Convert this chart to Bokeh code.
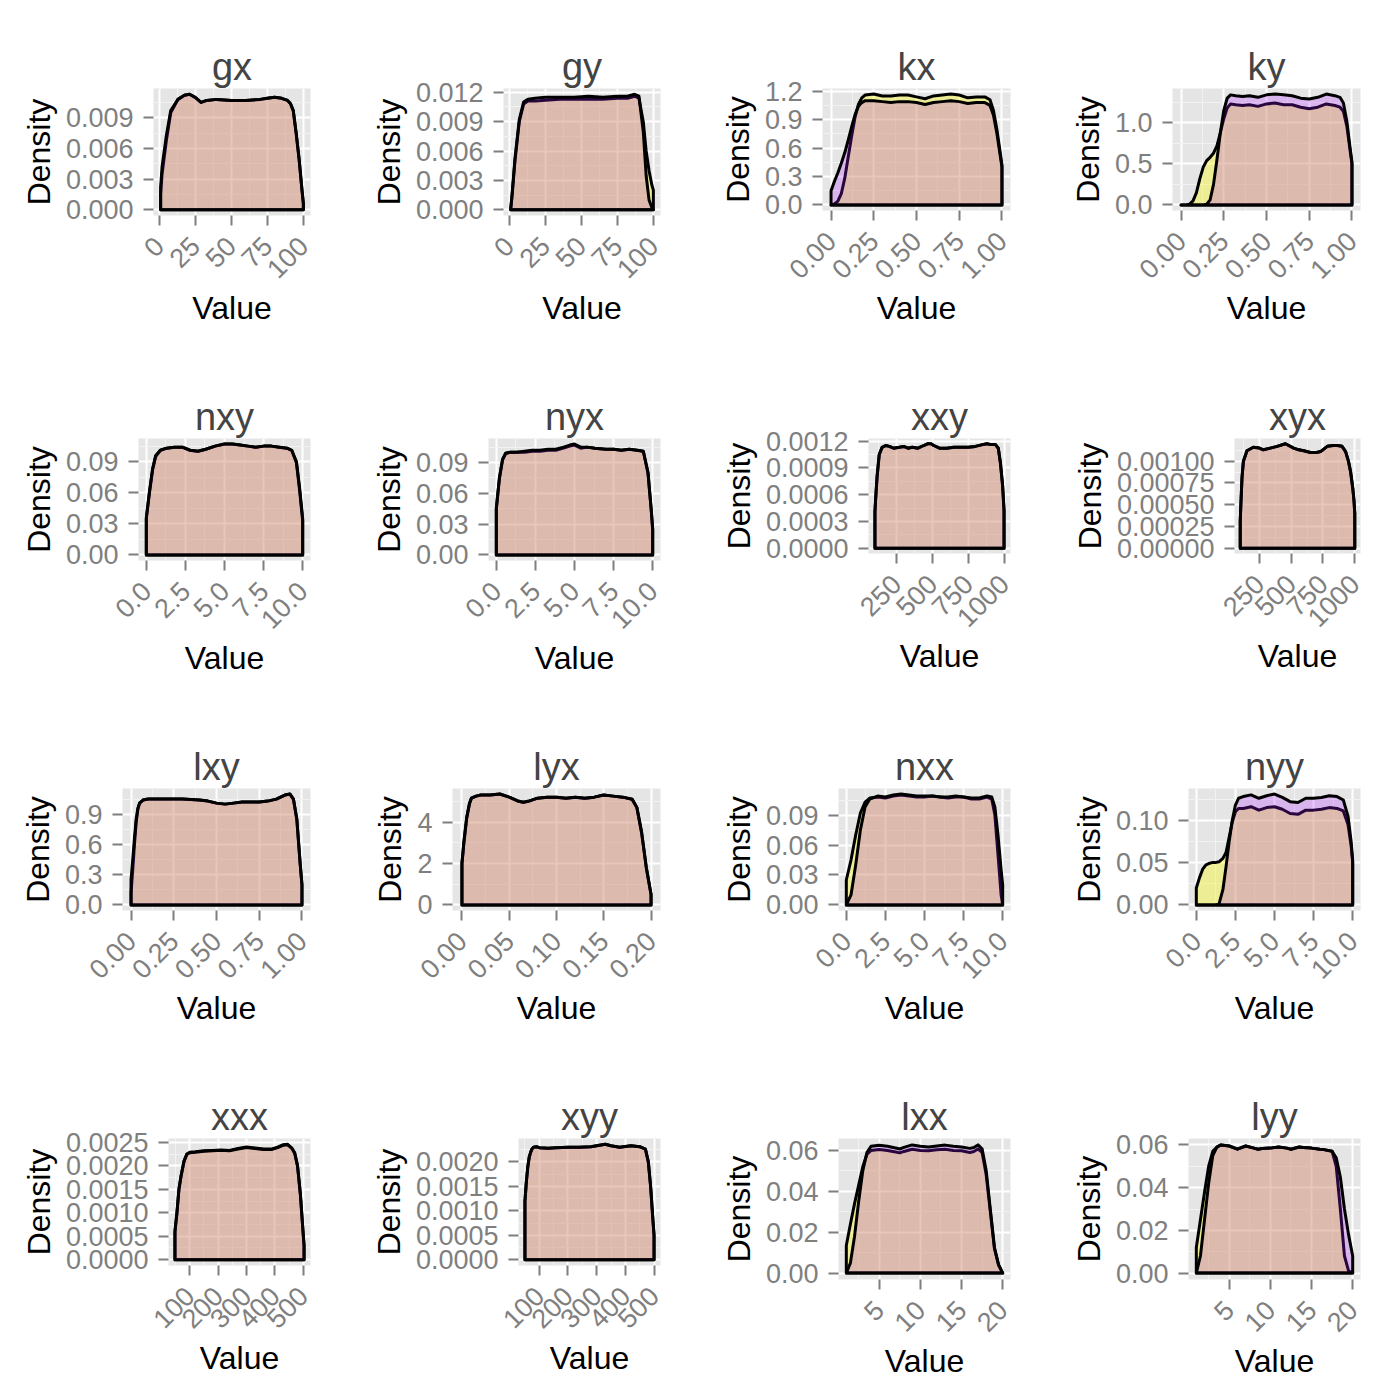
from bokeh.plotting import figure
from bokeh.layouts import row, column
from bokeh.models import Range1d, FixedTicker
from bokeh.embed import file_html
from bokeh.resources import INLINE

# ---------------- data ----------------
panel_names = ["gx", "gy", "kx", "ky", "nxy", "nyx", "xxy", "xyx",
               "lxy", "lyx", "nxx", "nyy", "xxx", "xyy", "lxx", "lyy"]

gx_x = [1, 2, 5, 8, 13, 17.5, 21, 25, 29, 33, 40, 50, 60, 70, 75, 80, 85, 89, 91, 93, 95, 97, 99, 100]
gx_yellow = [0.0015, 0.0035, 0.0068, 0.0095, 0.0108, 0.0112, 0.0113, 0.0110, 0.0105, 0.0107, 0.0108, 0.0107,
             0.0107, 0.0108, 0.0109, 0.0110, 0.0109, 0.0107, 0.0104, 0.0097, 0.0075, 0.0050, 0.0020, 0.0006]
gx_purple = [0.0022, 0.0042, 0.0073, 0.0097, 0.0108, 0.0112, 0.0113, 0.0110, 0.0105, 0.0107, 0.0108, 0.0107,
             0.0107, 0.0108, 0.0109, 0.0110, 0.0109, 0.0107, 0.0104, 0.0097, 0.0075, 0.0050, 0.0020, 0.0006]

gy_x = [1, 2, 4, 7, 10, 13, 18, 25, 35, 45, 55, 65, 75, 82, 87, 90, 93, 95, 97, 99, 100]
gy_yellow = [0.0000, 0.0015, 0.0050, 0.0090, 0.0108, 0.0111, 0.0111, 0.0112, 0.0113, 0.0113, 0.0113,
             0.0113, 0.0114, 0.0114, 0.0116, 0.0114, 0.0090, 0.0060, 0.0040, 0.0025, 0.0020]
gy_purple = [0.0000, 0.0015, 0.0052, 0.0092, 0.0110, 0.0113, 0.0114, 0.0115, 0.0115, 0.0115, 0.0116,
             0.0115, 0.0116, 0.0116, 0.0118, 0.0116, 0.0080, 0.0035, 0.0010, 0.0002, 0.0000]

kx_x = [0, 0.02, 0.04, 0.06, 0.08, 0.10, 0.12, 0.14, 0.16, 0.18, 0.2, 0.25, 0.3, 0.35, 0.4, 0.45, 0.5,
        0.55, 0.6, 0.65, 0.7, 0.75, 0.8, 0.85, 0.9, 0.93, 0.95, 0.97, 0.99, 1.0]
kx_yellow = [0.0, 0.01, 0.04, 0.12, 0.28, 0.50, 0.72, 0.92, 1.06, 1.13, 1.16, 1.17, 1.15, 1.15, 1.16, 1.16,
             1.14, 1.12, 1.15, 1.16, 1.17, 1.16, 1.13, 1.14, 1.14, 1.11, 1.00, 0.80, 0.55, 0.42]
kx_purple = [0.15, 0.25, 0.34, 0.44, 0.55, 0.68, 0.82, 0.95, 1.04, 1.08, 1.10, 1.10, 1.09, 1.08, 1.09, 1.09,
             1.08, 1.06, 1.08, 1.09, 1.10, 1.09, 1.07, 1.08, 1.08, 1.05, 0.95, 0.76, 0.52, 0.40]

ky_x = [0, 0.03, 0.05, 0.07, 0.09, 0.11, 0.13, 0.15, 0.17, 0.19, 0.21, 0.23, 0.25, 0.27, 0.29, 0.32, 0.36,
        0.4, 0.45, 0.5, 0.55, 0.6, 0.65, 0.7, 0.75, 0.8, 0.85, 0.9, 0.93, 0.95, 0.97, 0.99, 1.0]
ky_yellow = [0, 0, 0.01, 0.05, 0.15, 0.32, 0.46, 0.54, 0.58, 0.63, 0.72, 0.88, 1.05, 1.18, 1.23, 1.22, 1.21,
             1.22, 1.20, 1.23, 1.24, 1.22, 1.22, 1.19, 1.17, 1.19, 1.23, 1.21, 1.19, 1.14, 0.96, 0.65, 0.50]
ky_purple = [0, 0, 0, 0, 0, 0, 0, 0.01, 0.06, 0.25, 0.55, 0.88, 1.15, 1.30, 1.34, 1.33, 1.32,
             1.33, 1.31, 1.34, 1.35, 1.34, 1.33, 1.30, 1.29, 1.31, 1.35, 1.33, 1.31, 1.24, 1.02, 0.68, 0.52]

nxy_x = [0, 0.2, 0.4, 0.6, 0.9, 1.3, 1.8, 2.3, 2.8, 3.3, 3.8, 4.4, 5.0, 5.5, 6.0, 6.5, 7.0, 7.5, 8.0, 8.5,
         9.0, 9.3, 9.6, 9.8, 10.0]
nxy_yellow = [0.035, 0.060, 0.082, 0.095, 0.101, 0.103, 0.104, 0.104, 0.101, 0.100, 0.102, 0.105, 0.107,
              0.107, 0.106, 0.105, 0.104, 0.105, 0.105, 0.104, 0.103, 0.101, 0.090, 0.065, 0.035]
nxy_purple = [0.036, 0.061, 0.083, 0.096, 0.101, 0.103, 0.104, 0.104, 0.101, 0.100, 0.102, 0.105, 0.107,
              0.107, 0.106, 0.105, 0.104, 0.105, 0.105, 0.104, 0.103, 0.101, 0.089, 0.063, 0.033]

nyx_x = [0, 0.2, 0.4, 0.6, 0.9, 1.3, 1.8, 2.3, 2.8, 3.3, 3.8, 4.3, 4.7, 5.0, 5.4, 5.8, 6.3, 7.0, 7.5, 8.0,
         8.5, 9.0, 9.4, 9.7, 9.9, 10.0]
nyx_yellow = [0.045, 0.075, 0.093, 0.099, 0.100, 0.100, 0.100, 0.101, 0.101, 0.102, 0.102, 0.104, 0.106,
              0.107, 0.104, 0.105, 0.104, 0.103, 0.103, 0.102, 0.103, 0.102, 0.101, 0.080, 0.045, 0.025]
nyx_purple = [0.045, 0.075, 0.093, 0.099, 0.100, 0.100, 0.101, 0.102, 0.102, 0.103, 0.103, 0.105, 0.107,
              0.108, 0.105, 0.105, 0.104, 0.103, 0.103, 0.102, 0.103, 0.102, 0.101, 0.080, 0.045, 0.025]

xxy_x = [100, 105, 115, 130, 150, 175, 200, 230, 270, 300, 330, 360, 400, 440, 470, 490, 510, 550, 600, 650,
         700, 750, 800, 850, 880, 910, 940, 960, 975, 990, 1000]
xxy_yellow = [0.00041, 0.00055, 0.00080, 0.00105, 0.00113, 0.00115, 0.00114, 0.00112, 0.00113, 0.00114,
              0.00112, 0.00113, 0.00112, 0.00115, 0.00117, 0.00117, 0.00115, 0.00112, 0.00112, 0.00113,
              0.00113, 0.00113, 0.00114, 0.00116, 0.00117, 0.00116, 0.00116, 0.00112, 0.00095, 0.00070, 0.00042]
xxy_purple = [0.00041, 0.00056, 0.00081, 0.00105, 0.00113, 0.00115, 0.00114, 0.00112, 0.00113, 0.00114,
              0.00112, 0.00113, 0.00112, 0.00115, 0.00117, 0.00117, 0.00115, 0.00112, 0.00112, 0.00113,
              0.00113, 0.00113, 0.00114, 0.00116, 0.00117, 0.00116, 0.00116, 0.00112, 0.00095, 0.00070, 0.00042]

xyx_x = [100, 105, 114, 125, 153, 203, 250, 282, 337, 390, 455, 520, 560, 599, 652, 700, 731, 784, 830, 863,
         900, 928, 950, 967, 985, 994, 1000]
xyx_yellow = [0.00031, 0.00050, 0.00081, 0.00100, 0.00112, 0.00116, 0.00115, 0.00113, 0.00115, 0.00117,
              0.00120, 0.00115, 0.00113, 0.00112, 0.00110, 0.00110, 0.00111, 0.00117, 0.00118, 0.00118,
              0.00117, 0.00111, 0.00100, 0.00088, 0.00068, 0.00054, 0.00040]
xyx_purple = [0.00031, 0.00050, 0.00081, 0.00100, 0.00112, 0.00116, 0.00115, 0.00113, 0.00115, 0.00117,
              0.00120, 0.00115, 0.00113, 0.00112, 0.00110, 0.00110, 0.00111, 0.00117, 0.00118, 0.00118,
              0.00117, 0.00111, 0.00100, 0.00088, 0.00068, 0.00054, 0.00040]

lxy_x = [0, 0.01, 0.02, 0.03, 0.04, 0.05, 0.07, 0.1, 0.15, 0.2, 0.3, 0.4, 0.45, 0.5, 0.55, 0.6, 0.65, 0.7,
         0.75, 0.8, 0.85, 0.9, 0.93, 0.95, 0.97, 0.99, 1.0]
lxy_yellow = [0.12, 0.35, 0.60, 0.82, 0.95, 1.01, 1.04, 1.05, 1.05, 1.05, 1.05, 1.04, 1.03, 1.01, 1.00, 1.01,
              1.02, 1.02, 1.02, 1.03, 1.05, 1.09, 1.10, 1.05, 0.85, 0.40, 0.20]
lxy_purple = [0.25, 0.45, 0.66, 0.85, 0.96, 1.01, 1.04, 1.05, 1.05, 1.05, 1.05, 1.04, 1.03, 1.01, 1.00, 1.01,
              1.02, 1.02, 1.02, 1.03, 1.05, 1.09, 1.10, 1.05, 0.85, 0.40, 0.20]

lyx_x = [0, 0.002, 0.005, 0.008, 0.01, 0.015, 0.02, 0.03, 0.04, 0.05, 0.06, 0.065, 0.07, 0.08, 0.09, 0.1,
         0.11, 0.12, 0.13, 0.14, 0.15, 0.16, 0.17, 0.18, 0.185, 0.19, 0.195, 0.2]
lyx_yellow = [2.0, 3.0, 4.2, 4.9, 5.15, 5.25, 5.3, 5.3, 5.35, 5.2, 5.0, 4.95, 5.0, 5.15, 5.2, 5.2, 5.15, 5.2,
              5.15, 5.2, 5.3, 5.25, 5.2, 5.1, 4.7, 3.5, 1.8, 0.5]
lyx_purple = [2.0, 3.0, 4.2, 4.9, 5.15, 5.25, 5.3, 5.3, 5.35, 5.2, 5.0, 4.95, 5.0, 5.15, 5.2, 5.2, 5.15, 5.2,
              5.15, 5.2, 5.3, 5.25, 5.2, 5.1, 4.7, 3.5, 1.8, 0.5]

nxx_x = [0, 0.3, 0.6, 0.9, 1.2, 1.5, 2.0, 2.5, 3.0, 3.5, 4.0, 4.5, 5.0, 5.5, 6.0, 6.5, 7.0, 7.5, 8.0, 8.5,
         9.0, 9.3, 9.5, 9.7, 9.9, 10.0]
nxx_yellow = [0.025, 0.045, 0.070, 0.092, 0.103, 0.107, 0.108, 0.107, 0.109, 0.110, 0.109, 0.108, 0.108,
              0.109, 0.108, 0.107, 0.108, 0.108, 0.106, 0.106, 0.108, 0.106, 0.090, 0.050, 0.010, 0.000]
nxx_purple = [0.000, 0.010, 0.040, 0.075, 0.098, 0.106, 0.109, 0.108, 0.110, 0.111, 0.110, 0.109, 0.109,
              0.109, 0.108, 0.108, 0.109, 0.108, 0.107, 0.107, 0.109, 0.108, 0.098, 0.070, 0.035, 0.020]

nyy_x = [0, 0.2, 0.4, 0.6, 0.8, 1.0, 1.2, 1.45, 1.7, 1.9, 2.1, 2.3, 2.5, 2.7, 3.0, 3.5, 4.0, 4.5, 5.0, 5.5,
         6.0, 6.5, 7.0, 7.5, 8.0, 8.5, 9.0, 9.4, 9.7, 9.9, 10.0]
nyy_yellow = [0.020, 0.032, 0.042, 0.047, 0.049, 0.050, 0.050, 0.051, 0.055, 0.062, 0.080, 0.098, 0.110,
              0.114, 0.114, 0.116, 0.112, 0.115, 0.116, 0.113, 0.108, 0.107, 0.112, 0.112, 0.113, 0.115,
              0.114, 0.111, 0.095, 0.070, 0.050]
nyy_purple = [0, 0, 0, 0, 0, 0, 0, 0.001, 0.018, 0.045, 0.075, 0.100, 0.118, 0.126, 0.128, 0.130, 0.126,
              0.129, 0.131, 0.127, 0.122, 0.121, 0.126, 0.126, 0.127, 0.129, 0.128, 0.124, 0.105, 0.075, 0.052]

xxx_x = [48, 55, 62, 70, 80, 90, 100, 120, 150, 180, 210, 240, 270, 300, 330, 360, 390, 410, 430, 445, 460,
         470, 480, 490, 497, 503]
xxx_yellow = [0.0006, 0.0010, 0.0015, 0.0018, 0.0021, 0.00225, 0.00229, 0.00230, 0.00232, 0.00233, 0.00234,
              0.00233, 0.00237, 0.00240, 0.00238, 0.00236, 0.00236, 0.00240, 0.00245, 0.00246, 0.00238,
              0.00228, 0.00200, 0.00140, 0.00080, 0.00030]
xxx_purple = [0.0006, 0.0010, 0.0015, 0.0018, 0.0021, 0.00225, 0.00228, 0.00229, 0.00231, 0.00232, 0.00233,
              0.00232, 0.00236, 0.00239, 0.00237, 0.00235, 0.00235, 0.00239, 0.00244, 0.00245, 0.00237,
              0.00227, 0.00200, 0.00140, 0.00080, 0.00030]

xyy_x = [50, 55, 60, 65, 70, 75, 80, 90, 100, 130, 160, 200, 240, 280, 310, 330, 350, 380, 420, 450, 470,
         480, 488, 495, 500]
xyy_yellow = [0.0012, 0.0016, 0.0019, 0.0021, 0.0022, 0.00227, 0.00230, 0.00231, 0.00229, 0.00228, 0.00229,
              0.00230, 0.00230, 0.00231, 0.00234, 0.00236, 0.00233, 0.00230, 0.00233, 0.00231, 0.00226,
              0.00200, 0.00150, 0.00090, 0.00050]
xyy_purple = [0.0012, 0.0016, 0.0019, 0.0021, 0.0022, 0.00227, 0.00230, 0.00231, 0.00229, 0.00228, 0.00229,
              0.00230, 0.00230, 0.00231, 0.00234, 0.00236, 0.00233, 0.00230, 0.00233, 0.00231, 0.00226,
              0.00200, 0.00150, 0.00090, 0.00050]

lxx_x = [1, 1.5, 2, 2.5, 3, 3.5, 4, 5, 6, 7, 7.5, 8, 9, 10, 11, 12, 13, 14, 15, 16, 16.5, 17, 17.5, 18,
         18.5, 19, 19.5, 20]
lxx_yellow = [0.0135, 0.024, 0.034, 0.043, 0.052, 0.058, 0.0600, 0.0605, 0.0600, 0.0592, 0.0588, 0.0595,
              0.0606, 0.0600, 0.0598, 0.0603, 0.0606, 0.0600, 0.0598, 0.0590, 0.0595, 0.0607, 0.0590,
              0.0480, 0.0300, 0.0120, 0.0040, 0.0000]
lxx_purple = [0.000, 0.005, 0.018, 0.035, 0.050, 0.059, 0.0620, 0.0625, 0.0620, 0.0612, 0.0607, 0.0615,
              0.0627, 0.0620, 0.0617, 0.0622, 0.0626, 0.0620, 0.0617, 0.0610, 0.0614, 0.0627, 0.0608,
              0.0500, 0.0310, 0.0125, 0.0040, 0.0000]

lyy_x = [1, 1.5, 2, 2.5, 3, 3.5, 4, 5, 6, 7, 8, 8.5, 9, 10, 11, 12, 12.5, 13.5, 14, 15, 16, 16.5, 17.5, 18,
         18.5, 19, 19.5, 20]
lyy_yellow = [0.012, 0.025, 0.038, 0.050, 0.057, 0.059, 0.060, 0.0595, 0.058, 0.0595, 0.0585, 0.058, 0.0583,
              0.0585, 0.059, 0.0585, 0.058, 0.059, 0.0588, 0.0585, 0.058, 0.0578, 0.057, 0.050, 0.030,
              0.008, 0.001, 0.000]
lyy_purple = [0.000, 0.008, 0.025, 0.042, 0.055, 0.059, 0.060, 0.0595, 0.058, 0.0595, 0.0585, 0.058, 0.0583,
              0.0585, 0.059, 0.0585, 0.058, 0.059, 0.0588, 0.0585, 0.058, 0.0578, 0.057, 0.054, 0.045,
              0.030, 0.018, 0.008]

# tick labels
x_ticks_0_100 = ["0", "25", "50", "75", "100"]
x_ticks_0_1 = ["0.00", "0.25", "0.50", "0.75", "1.00"]
x_ticks_0_10 = ["0.0", "2.5", "5.0", "7.5", "10.0"]
x_ticks_1000 = ["250", "500", "750", "1000"]
x_ticks_0_02 = ["0.00", "0.05", "0.10", "0.15", "0.20"]
x_ticks_500 = ["100", "200", "300", "400", "500"]
x_ticks_20 = ["5", "10", "15", "20"]

gx_yticks = ["0.000", "0.003", "0.006", "0.009"]
gy_yticks = ["0.000", "0.003", "0.006", "0.009", "0.012"]
kx_yticks = ["0.0", "0.3", "0.6", "0.9", "1.2"]
ky_yticks = ["0.0", "0.5", "1.0"]
n09_yticks = ["0.00", "0.03", "0.06", "0.09"]
xxy_yticks = ["0.0000", "0.0003", "0.0006", "0.0009", "0.0012"]
xyx_yticks = ["0.00000", "0.00025", "0.00050", "0.00075", "0.00100"]
lxy_yticks = ["0.0", "0.3", "0.6", "0.9"]
lyx_yticks = ["0", "2", "4"]
nyy_yticks = ["0.00", "0.05", "0.10"]
xxx_yticks = ["0.0000", "0.0005", "0.0010", "0.0015", "0.0020", "0.0025"]
xyy_yticks = ["0.0000", "0.0005", "0.0010", "0.0015", "0.0020"]
l06_yticks = ["0.00", "0.02", "0.04", "0.06"]

panels = {
    "gx": (gx_x, gx_yellow, gx_purple, x_ticks_0_100, gx_yticks),
    "gy": (gy_x, gy_yellow, gy_purple, x_ticks_0_100, gy_yticks),
    "kx": (kx_x, kx_yellow, kx_purple, x_ticks_0_1, kx_yticks),
    "ky": (ky_x, ky_yellow, ky_purple, x_ticks_0_1, ky_yticks),
    "nxy": (nxy_x, nxy_yellow, nxy_purple, x_ticks_0_10, n09_yticks),
    "nyx": (nyx_x, nyx_yellow, nyx_purple, x_ticks_0_10, n09_yticks),
    "xxy": (xxy_x, xxy_yellow, xxy_purple, x_ticks_1000, xxy_yticks),
    "xyx": (xyx_x, xyx_yellow, xyx_purple, x_ticks_1000, xyx_yticks),
    "lxy": (lxy_x, lxy_yellow, lxy_purple, x_ticks_0_1, lxy_yticks),
    "lyx": (lyx_x, lyx_yellow, lyx_purple, x_ticks_0_02, lyx_yticks),
    "nxx": (nxx_x, nxx_yellow, nxx_purple, x_ticks_0_10, n09_yticks),
    "nyy": (nyy_x, nyy_yellow, nyy_purple, x_ticks_0_10, nyy_yticks),
    "xxx": (xxx_x, xxx_yellow, xxx_purple, x_ticks_500, xxx_yticks),
    "xyy": (xyy_x, xyy_yellow, xyy_purple, x_ticks_500, xyy_yticks),
    "lxx": (lxx_x, lxx_yellow, lxx_purple, x_ticks_20, l06_yticks),
    "lyy": (lyy_x, lyy_yellow, lyy_purple, x_ticks_20, l06_yticks),
}

# ---------------- layout (panel frame offsets inside each 350x350 cell) ----------------
frame_left = {"gx": 153, "gy": 153, "kx": 122, "ky": 122, "nxy": 138, "nyx": 138, "xxy": 168, "xyx": 184,
              "lxy": 122, "lyx": 102, "nxx": 138, "nyy": 138, "xxx": 168, "xyy": 168, "lxx": 138, "lyy": 138}
frame_bottom = {"gx": 215, "gy": 215, "kx": 210, "ky": 210, "nxy": 210, "nyx": 210, "xxy": 203, "xyx": 203,
                "lxy": 210, "lyx": 210, "nxx": 210, "nyy": 210, "xxx": 215, "xyy": 215, "lxx": 229, "lyy": 229}

FONT = "Liberation Sans"
GREY50 = "#7F7F7F"
YELLOW = "#FBFB1F"
PURPLE = "#AB19FE"


def minor_positions(t):
    s = t[1] - t[0]
    return [t[0] - s / 2 + k * s for k in range(len(t) + 1)]


def make_panel(name):
    xs, ya, yb, xlab, ylab = panels[name]
    xmin, xmax = min(xs), max(xs)
    ymax = max(max(ya), max(yb))
    dx = xmax - xmin
    p = figure(width=350, height=350, output_backend="svg", toolbar_location=None,
               x_range=Range1d(xmin - 0.05 * dx, xmax + 0.05 * dx),
               y_range=Range1d(-0.05 * ymax, 1.05 * ymax),
               min_border_left=frame_left[name], min_border_right=40,
               min_border_top=88, min_border_bottom=350 - frame_bottom[name],
               title=name)
    p.background_fill_color = "#E5E5E5"
    p.border_fill_color = "white"
    p.outline_line_color = None

    p.title.text_font = FONT
    p.title.text_font_size = "38px"
    p.title.text_font_style = "normal"
    p.title.align = "center"
    p.title.standoff = 2

    xt = [float(s) for s in xlab]
    yt = [float(s) for s in ylab]
    p.xaxis.ticker = FixedTicker(ticks=xt, minor_ticks=minor_positions(xt))
    p.yaxis.ticker = FixedTicker(ticks=yt, minor_ticks=minor_positions(yt))
    p.xaxis.major_label_overrides = {v: s for v, s in zip(xt, xlab)}
    p.yaxis.major_label_overrides = {v: s for v, s in zip(yt, ylab)}
    p.xaxis.major_label_orientation = 0.785398
    p.xaxis.axis_label = "Value"
    p.yaxis.axis_label = "Density"

    for ax in (p.xaxis[0], p.yaxis[0]):
        ax.axis_line_color = None
        ax.major_tick_line_color = GREY50
        ax.major_tick_line_width = 2
        ax.major_tick_out = 10
        ax.major_tick_in = 0
        ax.minor_tick_line_color = None
        ax.major_label_text_color = GREY50
        ax.major_label_text_font = FONT
        ax.major_label_text_font_size = "27px"
        ax.axis_label_text_font = FONT
        ax.axis_label_text_font_size = "32px"
        ax.axis_label_text_font_style = "normal"
        ax.axis_label_text_color = "black"
    p.xaxis.major_label_standoff = 16
    p.xaxis.axis_label_standoff = 0
    p.yaxis.major_label_standoff = 10
    p.yaxis.axis_label_standoff = 6

    for g in (p.xgrid[0], p.ygrid[0]):
        g.grid_line_color = "white"
        g.grid_line_width = 2
        g.minor_grid_line_color = "#F2F2F2"
        g.minor_grid_line_width = 1

    px = [xs[0]] + list(xs) + [xs[-1]]
    p.patch(px, [0] + list(ya) + [0], fill_color=YELLOW, fill_alpha=0.4,
            line_color="black", line_width=3, line_join="round")
    p.patch(px, [0] + list(yb) + [0], fill_color=PURPLE, fill_alpha=0.24,
            line_color="black", line_width=3, line_join="round")
    return p


figs = [make_panel(n) for n in panel_names]
# each plot wrapped in its own column so that frames are not aligned across a row
rows = [row([column(f) for f in figs[i:i + 4]], spacing=0) for i in range(0, 16, 4)]
page = column(rows, spacing=0)

open("out.html", "w").write(file_html(page, INLINE))
